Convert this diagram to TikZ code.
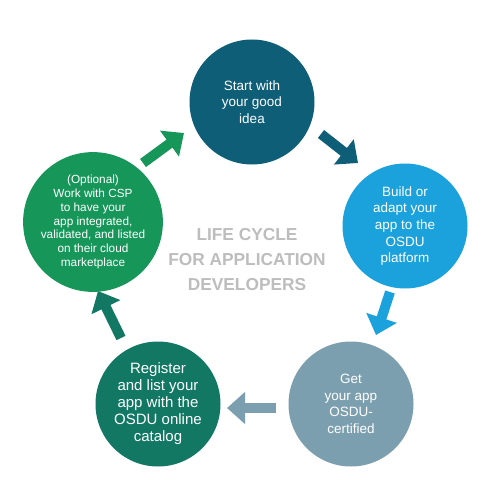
\documentclass[tikz,border=0pt]{standalone}
\usepackage{fontspec}
\setmainfont{Liberation Sans}
\usetikzlibrary{arrows.meta}
\definecolor{cA}{RGB}{14,94,120}
\definecolor{cB}{RGB}{27,161,219}
\definecolor{cC}{RGB}{124,159,175}
\definecolor{cD}{RGB}{18,120,100}
\definecolor{cE}{RGB}{23,150,90}
\definecolor{cT}{RGB}{189,189,189}
\tikzset{
  stage/.style={circle, minimum size=125pt, inner sep=0pt, text=white, align=center},
  flow/.style={line width=10pt, -{Triangle[length=18pt,width=31pt]}},
  big/.style={font=\fontsize{13.5pt}{16.6pt}\selectfont},
}
\begin{document}
\begin{tikzpicture}[x=1pt,y=-1pt]
\useasboundingbox (0,0) rectangle (500,500);
\fill[white] (0,0) rectangle (500,500);
\node[stage, big, fill=cA] (s1) at (252,102) {Start with\\your good\\idea};
\node[stage, big, fill=cB] (s2) at (405,226) {Build or\\adapt your\\app to the\\OSDU\\platform};
\node[stage, big, fill=cC] (s3) at (351,404) {Get\\your app\\OSDU-\\certified};
\node[stage, fill=cD, font=\fontsize{15pt}{17pt}\selectfont] (s4) at (158,404) {Register\\and list your\\app with the\\OSDU online\\catalog};
\node[stage, fill=cE, font=\fontsize{11.8pt}{13.8pt}\selectfont] (s5) at (93,222) {(Optional)\\Work with CSP\\to have your\\app integrated,\\validated, and listed\\on their cloud\\marketplace};
\node[text=cT, align=center, font=\fontsize{17.3pt}{25pt}\selectfont\bfseries] (title) at (247,260) {LIFE CYCLE\\FOR APPLICATION\\DEVELOPERS};
\coordinate (a1s) at (321,134); \coordinate (a1e) at (358,163);
\coordinate (a2s) at (390,292); \coordinate (a2e) at (376,335);
\coordinate (a3s) at (276,408); \coordinate (a3e) at (227,408);
\coordinate (a4s) at (121,338); \coordinate (a4e) at (98,291);
\coordinate (a5s) at (143,163); \coordinate (a5e) at (184,133);
\draw[flow, cA] (a1s) -- (a1e);
\draw[flow, cB] (a2s) -- (a2e);
\draw[flow, cC] (a3s) -- (a3e);
\draw[flow, cD] (a4s) -- (a4e);
\draw[flow, cE] (a5s) -- (a5e);
\end{tikzpicture}
\end{document}
